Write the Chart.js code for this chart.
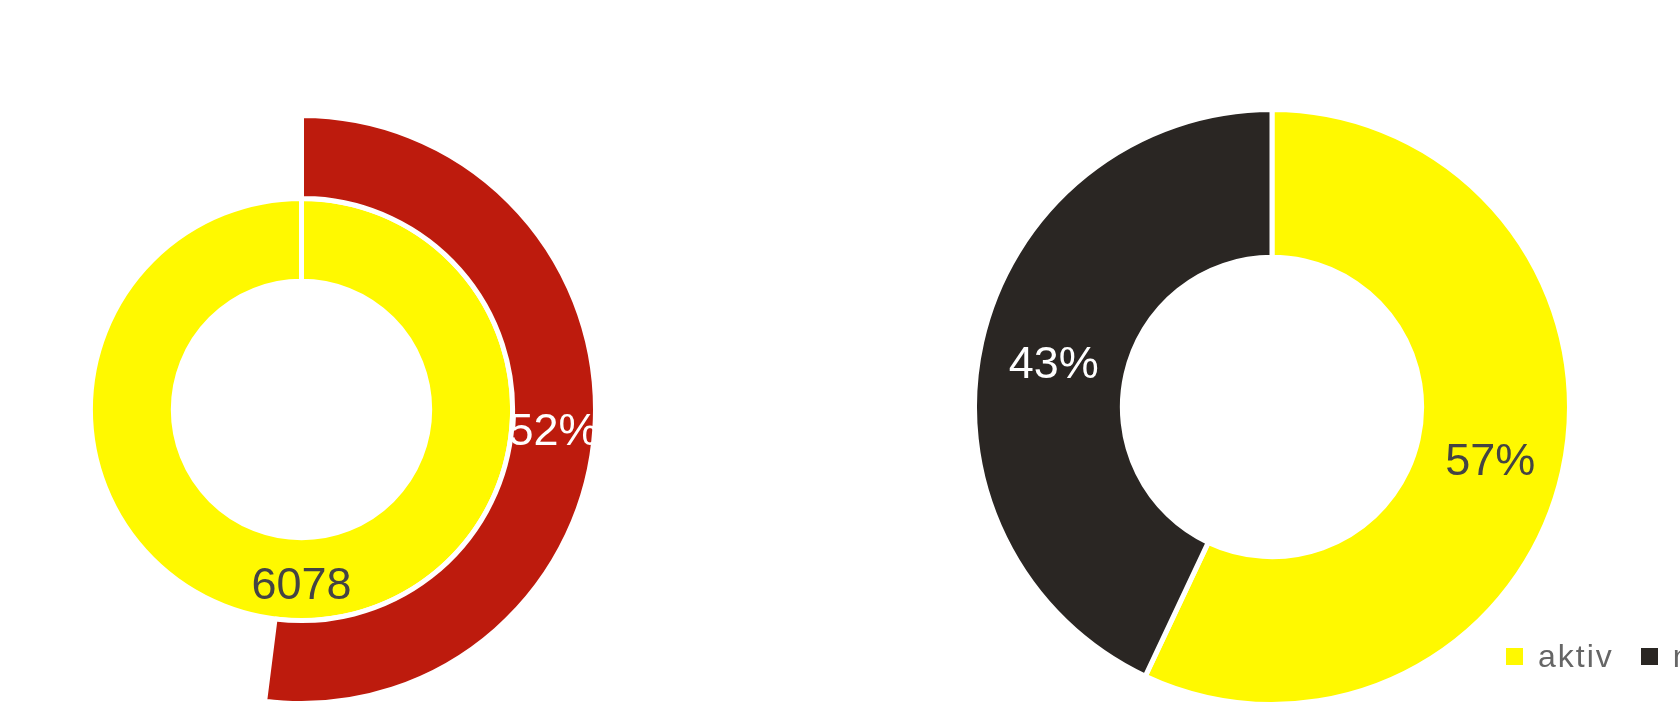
<!DOCTYPE html>
<html>
<head>
<meta charset="utf-8">
<script src="https://cdn.jsdelivr.net/npm/chart.js@4/dist/chart.umd.min.js"></script>
<style>
  html, body { margin: 0; padding: 0; background: #fff; }
  body { width: 1680px; height: 719px; overflow: hidden; position: relative; font-family: "Liberation Sans", Arial, sans-serif; }
  .box { position: absolute; }
  #legend { position: absolute; left: 1506px; top: 638px; white-space: nowrap; display: flex; align-items: center; }
  #legend span.sw { display: inline-block; width: 17px; height: 17px; margin-right: 15px; }
  #legend span.tx { font-size: 32px; letter-spacing: 2px; color: #666; margin-right: 27px; }
</style>
</head>
<body>
<div class="box" style="left:5px; top:113px; width:593px; height:593px;"><canvas id="ring-chart"></canvas></div>
<div class="box" style="left:972px; top:107px; width:600px; height:600px;"><canvas id="status-chart"></canvas></div>
<div id="legend"></div>
<script>
// left chart: outer ring share, inner ring total
const shareLabels = ["Anteil", "Rest"];
const shareValues = [52, 48];
const totalLabels = ["gesamt"];
const totalValues = [6078];

// right chart
const statusLabels = ["aktiv", "nicht aktiv"];
const statusValues = [57, 43];

const YELLOW = "#fff900";
const RED = "#bd1b0d";
const DARK = "#2a2623";

// draws a text in the middle of each slice
const sliceLabels = {
    id: "sliceLabels",
    afterDatasetsDraw(chart, args, opts) {
        const ctx = chart.ctx;
        chart.data.datasets.forEach((ds, i) => {
            const texts = opts.texts[i] || [];
            const colors = opts.colors[i] || [];
            chart.getDatasetMeta(i).data.forEach((arc, j) => {
                if (!texts[j]) return;
                const p = arc.getCenterPoint();
                ctx.save();
                ctx.font = '45px "Liberation Sans", Arial, sans-serif';
                ctx.fillStyle = colors[j];
                ctx.textAlign = "center";
                ctx.textBaseline = "middle";
                ctx.fillText(texts[j], p.x, p.y + 7);
                ctx.restore();
            });
        });
    },
};

const ringChart = new Chart(document.getElementById("ring-chart").getContext("2d"), {
    type: "doughnut",
    data: {
        labels: shareLabels,
        datasets: [
            {
                data: shareValues,
                backgroundColor: [RED, "rgba(0,0,0,0)"],
                borderColor: "#fff",
                borderWidth: [5, 0],
            },
            {
                data: totalValues,
                backgroundColor: [YELLOW],
                borderColor: "#fff",
                borderWidth: 5,
            },
        ],
    },
    options: {
        responsive: true,
        maintainAspectRatio: false,
        animation: false,
        cutout: "43.6%",
        plugins: {
            legend: { display: false },
            tooltip: { enabled: false },
            sliceLabels: {
                texts: [[shareValues[0] + "%", ""], [String(totalValues[0])]],
                colors: [["#fff", ""], ["#444"]],
            },
        },
    },
    plugins: [sliceLabels],
});

const statusChart = new Chart(document.getElementById("status-chart").getContext("2d"), {
    type: "doughnut",
    data: {
        labels: statusLabels,
        datasets: [
            {
                data: statusValues,
                backgroundColor: [YELLOW, DARK],
                borderColor: "#fff",
                borderWidth: 5,
            },
        ],
    },
    options: {
        responsive: true,
        maintainAspectRatio: false,
        animation: false,
        cutout: "50.3%",
        plugins: {
            legend: { display: false },
            tooltip: { enabled: false },
            sliceLabels: {
                texts: [statusValues.map((v) => v + "%")],
                colors: [["#444", "#fff"]],
            },
        },
    },
    plugins: [sliceLabels],
});

// html legend for the right chart, built from the chart's own legend items
const legendBox = document.getElementById("legend");
statusChart.options.plugins.legend.labels.generateLabels(statusChart).forEach((item) => {
    const sw = document.createElement("span");
    sw.className = "sw";
    sw.style.background = item.fillStyle;
    const tx = document.createElement("span");
    tx.className = "tx";
    tx.textContent = item.text;
    legendBox.appendChild(sw);
    legendBox.appendChild(tx);
});
</script>
</body>
</html>
